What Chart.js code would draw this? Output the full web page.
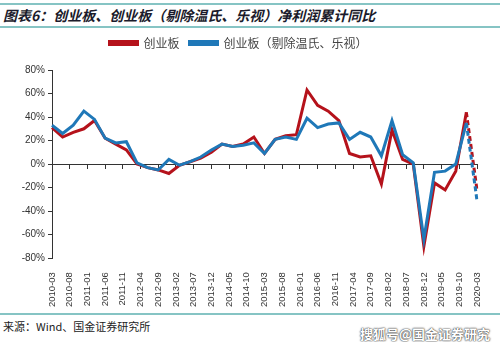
<!DOCTYPE html>
<html>
<head>
<meta charset="utf-8">
<script src="https://cdn.jsdelivr.net/npm/chart.js@4.4.1/dist/chart.umd.min.js"></script>
<style>
  body { margin: 0; width: 500px; height: 342px; background: #fff; position: relative; overflow: hidden;
         font-family: "Liberation Sans", "Noto Sans CJK SC", sans-serif; }
  #title { position: absolute; left: 0; top: 3px; width: 500px; height: 21px; border-top: 2px solid #86c4c4;
           border-bottom: 2px solid #86c4c4; font: italic bold 14px "Noto Sans CJK SC", sans-serif;
           color: #1b1b2b; line-height: 21px; padding-left: 3px; box-sizing: content-box; }
  #wrap { position: absolute; left: 0; top: 27px; width: 500px; height: 286px; }
  #foot { position: absolute; left: 0; top: 313px; width: 500px; border-top: 2px solid #86c4c4; }
  #src { position: absolute; left: 3px; top: 318px; font: 11px "Noto Sans CJK SC", sans-serif; color: #222; }
  #mark { position: absolute; right: 10px; top: 324px; font: bold 13px "Noto Sans CJK SC", sans-serif; color: #fff;
          text-shadow: 0 0 2px #333, 0 0 1px #333; }
</style>
</head>
<body>
<div id="title">图表6：创业板、创业板（剔除温氏、乐视）净利润累计同比</div>
<div id="wrap"><canvas id="chart"></canvas></div>
<div id="foot"></div>
<div id="src">来源：Wind、国金证券研究所</div>
<div id="mark">搜狐号@国金证券研究</div>
<script>
// quarterly report dates
const quarters = [
  '2010-03','2010-06','2010-09','2010-12','2011-03','2011-06','2011-09','2011-12',
  '2012-03','2012-06','2012-09','2012-12','2013-03','2013-06','2013-09','2013-12',
  '2014-03','2014-06','2014-09','2014-12','2015-03','2015-06','2015-09','2015-12',
  '2016-03','2016-06','2016-09','2016-12','2017-03','2017-06','2017-09','2017-12',
  '2018-03','2018-06','2018-09','2018-12','2019-03','2019-06','2019-09','2019-12',
  '2020-03'
];
// 创业板 净利润累计同比 (%)
const gemAll = [
  31, 23, 27, 30, 37, 22, 17, 12,
  0, -3, -5, -8, -1, 2, 5, 10,
  17, 15, 17, 23, 9, 21, 24, 25,
  63, 50, 45, 37, 9, 6, 7, -17,
  29, 4, 0, -70, -16, -22, -6, 44,
  -22
];
// 创业板（剔除温氏、乐视）
const gemEx = [
  33, 26, 33, 45, 38, 22, 18, 19,
  1, -3, -5, 4, -1, 2, 6, 12,
  17, 15, 16, 18, 9, 21, 23, 21,
  39, 31, 34, 35, 21, 27, 23, 7,
  37, 8, 1, -64, -7, -6, 0, 35,
  -31
];
const tickLabels = [
  '2010-03','2010-08','2011-01','2011-06','2011-11','2012-04','2012-09','2013-02',
  '2013-07','2013-12','2014-05','2014-10','2015-03','2015-08','2016-01','2016-06',
  '2016-11','2017-04','2017-09','2018-02','2018-07','2018-12','2019-05','2019-10','2020-03'
];

// monthly axis so the ticks can fall every 5 months
const months = [];
for (let y = 2010; y <= 2020; y++) {
  for (let m = 1; m <= 12; m++) {
    const s = y + '-' + String(m).padStart(2, '0');
    if (s >= quarters[0] && s <= quarters[quarters.length - 1]) months.push(s);
  }
}
function toMonthly(vals) {
  return months.map(function (mo) {
    const i = quarters.indexOf(mo);
    return i < 0 ? null : vals[i];
  });
}
const lastIdx = months.length - 1;
const dashLast = { borderDash: ctx => ctx.p1DataIndex === lastIdx ? [5, 3] : undefined };

// extra room under the legend
const legendGap = {
  id: 'legendGap',
  beforeInit(chart) {
    const fit = chart.legend.fit;
    chart.legend.fit = function () {
      fit.bind(chart.legend)();
      this.height += 11;
    };
  }
};

const ctx = document.getElementById('chart').getContext('2d');
new Chart(ctx, {
  type: 'line',
  plugins: [legendGap],
  data: {
    labels: months,
    datasets: [{
      label: '创业板',
      data: toMonthly(gemAll),
      borderColor: '#b5121b',
      backgroundColor: '#b5121b',
      borderWidth: 3,
      pointRadius: 0,
      spanGaps: true,
      order: 1,
      segment: dashLast
    }, {
      label: '创业板（剔除温氏、乐视）',
      data: toMonthly(gemEx),
      borderColor: '#1f78b8',
      backgroundColor: '#1f78b8',
      borderWidth: 3,
      pointRadius: 0,
      spanGaps: true,
      order: 0,
      segment: dashLast
    }]
  },
  options: {
    responsive: true,
    maintainAspectRatio: false,
    animation: false,
    layout: { padding: { left: 0, right: 23, top: 0, bottom: 0 } },
    plugins: {
      tooltip: { enabled: false },
      legend: {
        position: 'top',
        labels: {
          boxWidth: 28,
          boxHeight: 3,
          padding: 10,
          color: '#444',
          font: { size: 12, family: '"Noto Sans CJK SC", sans-serif' },
          sort: (a, b) => a.datasetIndex - b.datasetIndex
        }
      }
    },
    scales: {
      x: {
        type: 'category',
        position: { y: 0 },
        border: { display: true, color: '#333', width: 1 },
        grid: { display: true, drawOnChartArea: false, drawTicks: true, tickLength: 4, color: '#333' },
        ticks: {
          autoSkip: false,
          maxRotation: 0,
          callback: function (v, i) { return tickLabels.includes(months[i]) ? '' : null; }
        }
      },
      x2: {
        type: 'category',
        axis: 'x',
        position: 'bottom',
        border: { display: false },
        grid: { display: false },
        ticks: {
          autoSkip: false,
          minRotation: 90,
          maxRotation: 90,
          padding: 6,
          color: '#333',
          font: { size: 9.5, family: '"Liberation Sans", sans-serif' },
          callback: function (v, i) { return tickLabels.includes(months[i]) ? months[i] : null; }
        }
      },
      y: {
        min: -80,
        max: 80,
        border: { display: true, color: '#333', width: 1 },
        grid: { display: true, drawOnChartArea: false, drawTicks: true, tickLength: 4, color: '#333' },
        ticks: {
          stepSize: 20,
          padding: 3,
          color: '#333',
          font: { size: 10, family: '"Liberation Sans", sans-serif' },
          callback: v => v + '%'
        },
        afterFit: s => { s.width = 52; }
      }
    }
  }
});
</script>
</body>
</html>
